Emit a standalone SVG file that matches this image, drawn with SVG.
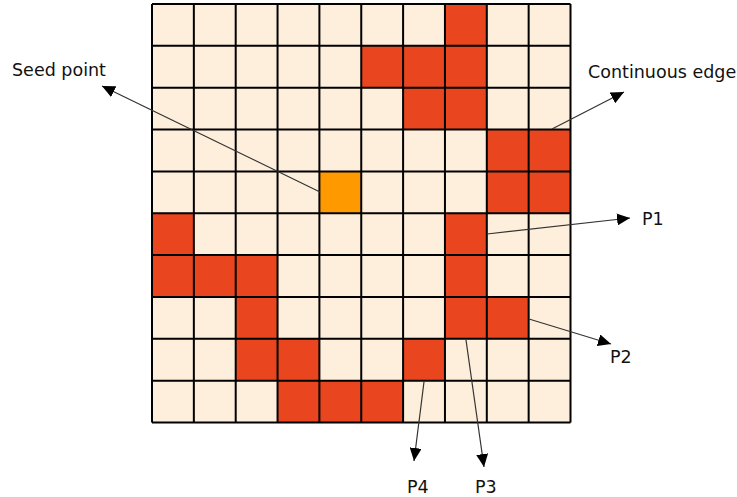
<svg xmlns="http://www.w3.org/2000/svg" width="737" height="497" viewBox="0 0 737 497">
<style>
.bg{fill:#FEEFDD}
.r{fill:#E94620}
.o{fill:#FF9900}
.grid{fill:none;stroke:#000;stroke-width:2}
.con{stroke:#333;stroke-width:1.2;fill:none}
.lbl{font-family:"DejaVu Sans",Verdana,sans-serif;font-size:17.5px;fill:#111}
</style>
<defs>
<marker id="ah" markerUnits="userSpaceOnUse" markerWidth="14" markerHeight="12" refX="13" refY="6" orient="auto">
<path d="M0,0 L13,6 L0,12 z" fill="#000"/>
</marker>
</defs>
<g id="grid">
<rect class="bg" x="152" y="4" width="418.5" height="418.5"/>
<g id="edge-cells">
<rect class="r" x="444.95" y="4" width="41.85" height="41.85"/>
<rect class="r" x="361.25" y="45.85" width="125.55" height="41.85"/>
<rect class="r" x="403.1" y="87.7" width="83.7" height="41.85"/>
<rect class="r" x="486.8" y="129.55" width="83.7" height="83.7"/>
<rect class="r" x="152" y="213.25" width="41.85" height="41.85"/>
<rect class="r" x="444.95" y="213.25" width="41.85" height="83.7"/>
<rect class="r" x="152" y="255.1" width="125.55" height="41.85"/>
<rect class="r" x="235.7" y="296.95" width="41.85" height="41.85"/>
<rect class="r" x="444.95" y="296.95" width="83.7" height="41.85"/>
<rect class="r" x="235.7" y="338.8" width="83.7" height="41.85"/>
<rect class="r" x="403.1" y="338.8" width="41.85" height="41.85"/>
<rect class="r" x="277.55" y="380.65" width="125.55" height="41.85"/>
</g>
<rect id="seed" class="o" x="319.4" y="171.4" width="41.85" height="41.85"/>
<path class="grid" d="M152,4V422.5M193.85,4V422.5M235.7,4V422.5M277.55,4V422.5M319.4,4V422.5M361.25,4V422.5M403.1,4V422.5M444.95,4V422.5M486.8,4V422.5M528.65,4V422.5M570.5,4V422.5M152,4H570.5M152,45.85H570.5M152,87.7H570.5M152,129.55H570.5M152,171.4H570.5M152,213.25H570.5M152,255.1H570.5M152,296.95H570.5M152,338.8H570.5M152,380.65H570.5M152,422.5H570.5"/>
</g>
<g id="connectors">
<line class="con" x1="320" y1="192" x2="102" y2="86" marker-end="url(#ah)"/>
<line class="con" x1="552" y1="129" x2="624" y2="92" marker-end="url(#ah)"/>
<line class="con" x1="487" y1="234" x2="630" y2="218" marker-end="url(#ah)"/>
<line class="con" x1="529" y1="319" x2="611" y2="344" marker-end="url(#ah)"/>
<line class="con" x1="466" y1="340" x2="484" y2="467" marker-end="url(#ah)"/>
<line class="con" x1="424" y1="382" x2="414" y2="461" marker-end="url(#ah)"/>
</g>
<g id="label-seed"><text class="lbl" x="12" y="76">Seed point</text></g>
<g id="label-edge"><text class="lbl" x="588" y="78">Continuous edge</text></g>
<g id="label-p1"><text class="lbl" x="642" y="225">P1</text></g>
<g id="label-p2"><text class="lbl" x="610" y="363">P2</text></g>
<g id="label-p3"><text class="lbl" x="475" y="493">P3</text></g>
<g id="label-p4"><text class="lbl" x="407" y="493">P4</text></g>
</svg>
